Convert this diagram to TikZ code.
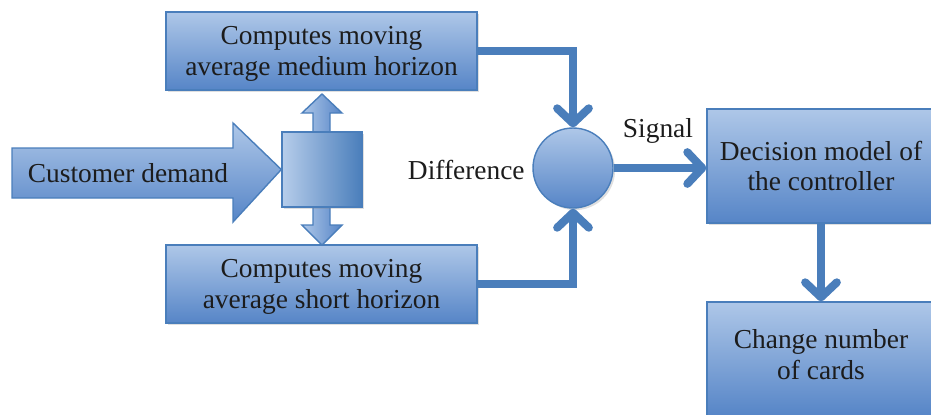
\documentclass[tikz,border=0pt]{standalone}
\usepackage{fontspec}
\setmainfont{Liberation Serif}
\usetikzlibrary{arrows.meta,shadows}
\definecolor{edgeblue}{RGB}{74,126,187}
\definecolor{topblue}{RGB}{174,199,232}
\definecolor{lowblue}{RGB}{86,133,199}
\definecolor{inkgray}{RGB}{28,28,28}
\tikzset{
  box/.style={draw=edgeblue, line width=0.8pt, top color=topblue, bottom color=lowblue,
    text=inkgray, align=center, inner sep=0pt,
    drop shadow={shadow xshift=1.2pt, shadow yshift=-1.2pt, opacity=0.25}},
  flow/.style={draw=edgeblue, line width=4.6pt,
    -{Straight Barb[length=8.5pt,width=18pt,line cap=round,line join=round]}},
  plain/.style={text=inkgray, inner sep=0pt},
}
\begin{document}
\begin{tikzpicture}[x=0.02cm,y=-0.02cm,font=\fontsize{15.6}{17.4}\selectfont]
\useasboundingbox (0,0) rectangle (931,414);
\clip (0,0) rectangle (931,414);

\node[box, minimum width=6.22cm, minimum height=1.56cm, text depth=-1.5pt] (med) at (321.5,51)
  {Computes moving\\average medium horizon};
\node[box, minimum width=6.22cm, minimum height=1.56cm, text depth=-1.5pt] (short) at (321.5,284)
  {Computes moving\\average short horizon};
\node[box, minimum width=4.56cm, minimum height=2.28cm, text depth=-2.5pt] (dec) at (821,166)
  {Decision model of\\the controller};
\node[box, minimum width=4.56cm, minimum height=2.28cm, text depth=5pt] (chg) at (821,359)
  {Change number\\of cards};
\node[box, circle, minimum size=1.6cm] (diff) at (573,168) {};
\node[plain, anchor=east] (difflabel) at (525,170) {Difference};
\node[plain] (signal) at (658,131) {Signal};

\path[draw=edgeblue, line width=0.8pt, left color=topblue, right color=lowblue]
  (322,94) -- (342,113) -- (330,113) -- (330,225) -- (342,225) -- (322,245)
  -- (302,225) -- (313,225) -- (313,113) -- (302,113) -- cycle;
\node[box, left color=topblue!90, right color=edgeblue, minimum width=1.6cm,
  minimum height=1.5cm, drop shadow={opacity=0}] (split) at (322,169.5) {};
\path[draw=edgeblue, line width=0.8pt, top color=topblue, bottom color=lowblue]
  (12,148) -- (233,148) -- (233,123) -- (split.west) -- (233,222) -- (233,198)
  -- (12,198) -- cycle;
\node[plain] (demand) at (128,173) {Customer demand};

\draw[flow] (med.east) -| (diff.north);
\draw[flow] (short.east) -| (diff.south);
\draw[flow] (diff.east) -- (diff.east -| dec.west);
\draw[flow] (dec.south) -- (chg.north);
\end{tikzpicture}
\end{document}
